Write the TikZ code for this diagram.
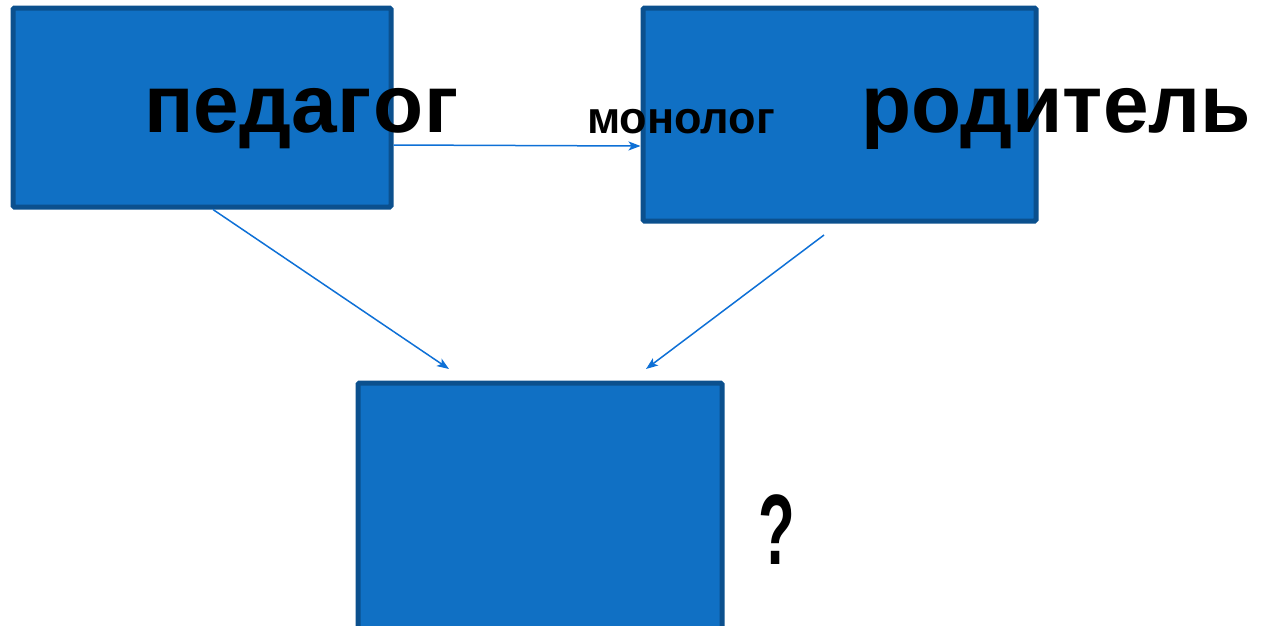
\documentclass[tikz,border=0pt]{standalone}
\usepackage{fontspec}
\setmainfont{Liberation Sans}
\usetikzlibrary{arrows.meta}
\definecolor{boxfill}{RGB}{16,112,196}
\definecolor{boxline}{RGB}{11,80,142}
\definecolor{arrowblue}{RGB}{14,112,214}
\tikzset{
  bluebox/.style={draw=boxline, line width=5pt, fill=boxfill, rounded corners=1.5pt, inner sep=0pt},
  conn/.style={draw=arrowblue, line width=1.5pt, -{Stealth[length=12pt,width=9pt,inset=3pt]}},
  bigtext/.style={font=\fontsize{82}{90}\selectfont\bfseries, inner sep=0pt, anchor=base west},
  smalltext/.style={font=\fontsize{45}{50}\selectfont\bfseries, inner sep=0pt, anchor=base west}
}
\begin{document}
\begin{tikzpicture}[x=1pt,y=-1pt]
\useasboundingbox (0,0) rectangle (1266,625);
\begin{scope}
\clip (0,0) rectangle (1266,625);
\node[bluebox, minimum width=378pt, minimum height=199pt] (box1) at (202,107.5) {};
\node[bluebox, minimum width=393pt, minimum height=213pt] (box2) at (839.5,114.5) {};
\node[bluebox, minimum width=364pt, minimum height=250pt] (box3) at (540,508) {};
\end{scope}
\coordinate (e2) at (449,369);
\coordinate (s3) at (824,235);
\coordinate (e3) at (646,369);
\draw[conn] (box1.east |- 0,145) -- (box2.west |- 0,146);
\draw[conn] (box1.south -| 213,0) -- (e2);
\draw[conn] (s3) -- (e3);
\node[bigtext] (t1) at (144,132) {педа\kern1pt г\kern1pt о\kern1pt г};
\node[bigtext] (t2) at (861,132) {родитель};
\node[smalltext] (t3) at (587,133) {монолог};
\node[inner sep=0pt, anchor=base west, font=\fontsize{100}{100}\selectfont\bfseries] (q) at (758,564) {\scalebox{0.6}[1]{?}};
\end{tikzpicture}
\end{document}
